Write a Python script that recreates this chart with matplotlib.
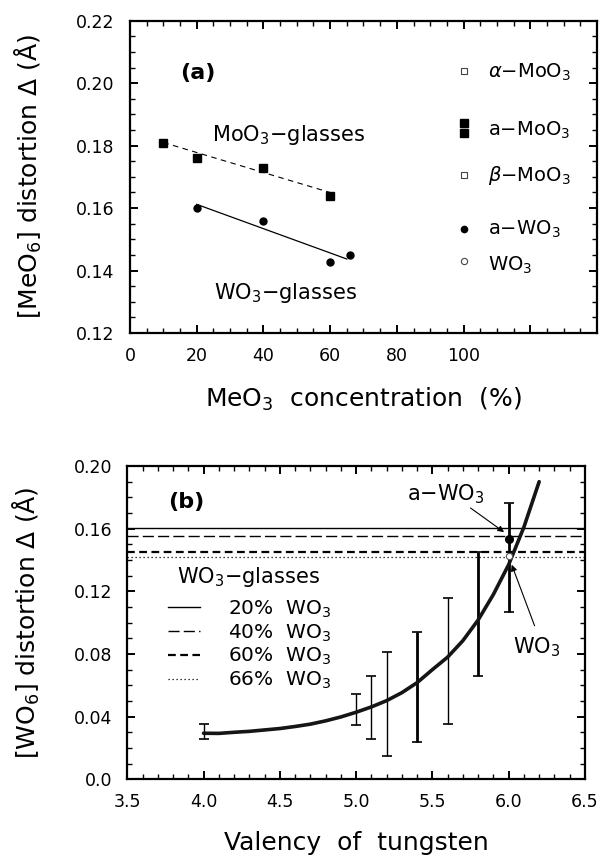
import matplotlib
matplotlib.use('Agg')
import matplotlib.pyplot as plt
from matplotlib.ticker import MultipleLocator, FixedLocator, FixedFormatter

# panel (a): [MeO6] distortion against MeO3 content of the glasses
mo_glass_conc = [10, 20, 40, 60]
mo_glass_dist = [0.181, 0.1762, 0.1728, 0.1639]
w_glass_conc = [20, 40, 60, 66]
w_glass_dist = [0.160, 0.156, 0.1429, 0.145]
mo_fit_conc = [10, 60]
mo_fit_dist = [0.181, 0.1650]
w_fit_conc = [20, 65]
w_fit_dist = [0.1612, 0.1437]

# reference compounds, all drawn at 100 %
ref_conc = 100
alpha_mo = [0.2040]
a_mo = [0.1872, 0.1842]
beta_mo = [0.1707]
a_w = [0.1534]
w_cryst = [0.1432]
ref_names = ['$\\alpha$\u2212MoO$_3$', 'a\u2212MoO$_3$', '$\\beta$\u2212MoO$_3$',
             'a\u2212WO$_3$', 'WO$_3$']
ref_name_y = [0.2019, 0.1831, 0.1688, 0.1515, 0.1400]

# panel (b): [WO6] distortion against valency of tungsten
valency = [4.0, 4.1, 4.2, 4.3, 4.4, 4.5, 4.6, 4.7, 4.8, 4.9, 5.0, 5.1,
           5.2, 5.3, 5.4, 5.5, 5.6, 5.7, 5.8, 5.9, 6.0, 6.1, 6.2]
wo6_dist = [0.0294, 0.0293, 0.0300, 0.0306, 0.0315, 0.0324, 0.0337, 0.0352,
            0.0373, 0.0398, 0.0428, 0.0462, 0.0502, 0.0553, 0.0617, 0.0700,
            0.0780, 0.0885, 0.1017, 0.1180, 0.1370, 0.1610, 0.1900]
bar_val = [4.0, 5.0, 5.1, 5.2, 5.4, 5.6, 5.8, 6.0]
bar_lo = [0.0255, 0.0347, 0.0255, 0.0149, 0.0236, 0.0353, 0.0660, 0.1066]
bar_hi = [0.0353, 0.0543, 0.0660, 0.0811, 0.0939, 0.1156, 0.1453, 0.1762]
glass_names = ['20%  WO$_3$', '40%  WO$_3$', '60%  WO$_3$', '66%  WO$_3$']
glass_level = [0.1603, 0.1556, 0.1453, 0.1418]
aw_val, aw_dist = [6.0], [0.1533]
wc_val, wc_dist = [6.0], [0.1428]

plt.rcParams['font.family'] = ['DejaVu Sans']
plt.rcParams['mathtext.fontset'] = 'dejavusans'

fig = plt.figure(figsize=(5.99, 8.59), dpi=100)
ax1 = fig.add_axes([0.217, 0.6123, 0.7796, 0.3636])
ax2 = fig.add_axes([0.2125, 0.0928, 0.764, 0.3647])

for ax in (ax1, ax2):
    for sp in ax.spines.values():
        sp.set_linewidth(1.6)
    ax.tick_params(which='both', direction='in', top=True, right=True,
                   labelsize=12.5)
    ax.tick_params(which='major', length=6, width=1.4)
    ax.tick_params(which='minor', length=3.5, width=1.0)
    ax.tick_params(axis='y', pad=11)
    ax.tick_params(axis='x', pad=10)

# ---- panel (a)
ax1.plot(mo_fit_conc, mo_fit_dist, color='k', lw=0.8, ls=(0, (5, 4)))
ax1.plot(w_fit_conc, w_fit_dist, color='k', lw=0.9)
ax1.plot(mo_glass_conc, mo_glass_dist, 's', color='k', ms=6)
ax1.plot(w_glass_conc, w_glass_dist, 'o', color='k', ms=5)

ax1.plot([ref_conc] * len(alpha_mo), alpha_mo, 's', mfc='white', mec='#444', mew=0.8, ms=5)
ax1.plot([ref_conc] * len(a_mo), a_mo, 's', color='k', ms=6)
ax1.plot([ref_conc] * len(beta_mo), beta_mo, 's', mfc='white', mec='#444', mew=0.8, ms=5)
ax1.plot([ref_conc] * len(a_w), a_w, 'o', color='k', ms=4.5)
ax1.plot([ref_conc] * len(w_cryst), w_cryst, 'o', mfc='white', mec='#444', mew=0.8, ms=4.5)
for name, yy in zip(ref_names, ref_name_y):
    ax1.text(107.3, yy, name, fontsize=14, va='baseline', ha='left')

ax1.text(14.9, 0.2014, '(a)', fontsize=16, fontweight='bold', va='baseline')
ax1.text(24.6, 0.1816, 'MoO$_3$\u2212glasses', fontsize=15, va='baseline')
ax1.text(25.2, 0.1308, 'WO$_3$\u2212glasses', fontsize=15, va='baseline')

ax1.set_xlim(0, 140)
ax1.set_ylim(0.12, 0.22)
ax1.xaxis.set_major_locator(FixedLocator([0, 20, 40, 60, 80, 100, 120, 140]))
ax1.xaxis.set_major_formatter(FixedFormatter(['0', '20', '40', '60', '80', '100', '', '']))
ax1.xaxis.set_minor_locator(MultipleLocator(5))
ax1.yaxis.set_major_locator(MultipleLocator(0.02))
ax1.yaxis.set_major_formatter(plt.FuncFormatter(lambda v, p: '%.2f' % v))
ax1.yaxis.set_minor_locator(MultipleLocator(0.005))
ax1.set_xlabel('MeO$_3$  concentration  (%)', fontsize=18, va='center')
ax1.xaxis.set_label_coords(0.5, -0.214)
ax1.set_ylabel('[MeO$_6$] distortion \u0394 (\u00c5)', fontsize=18, va='center')
ax1.yaxis.set_label_coords(-0.217, 0.5)

# ---- panel (b)
styles = ['-', (0, (8, 3)), (0, (3.5, 2)), (0, (1, 2.2))]
widths = [1.0, 1.0, 1.6, 0.9]
handles = []
for lev, st, w, name in zip(glass_level, styles, widths, glass_names):
    h = ax2.axhline(lev, color='k', ls=st, lw=w, label=name)
    handles.append(h)

thick = {5.4, 5.8, 6.0}
for v, lo, hi in zip(bar_val, bar_lo, bar_hi):
    mid = (lo + hi) / 2
    ax2.errorbar([v], [mid], yerr=[[mid - lo], [hi - mid]], fmt='none',
                 ecolor='k', elinewidth=2.0 if v in thick else 1.0,
                 capsize=3.5, capthick=1.2)

ax2.plot(valency, wo6_dist, color='#151515', lw=2.6, solid_capstyle='round')
ax2.plot(aw_val, aw_dist, 'o', color='k', ms=5.5)
ax2.plot(wc_val, wc_dist, 'o', mfc='white', mec='#555', mew=0.8, ms=4.5)

ax2.text(3.768, 0.173, '(b)', fontsize=16, fontweight='bold', va='baseline')
ax2.text(5.332, 0.1783, 'a\u2212WO$_3$', fontsize=15, va='baseline')
ax2.text(6.029, 0.0805, 'WO$_3$', fontsize=15, va='baseline')
arrow = dict(arrowstyle='-|>', color='k', lw=0.8, mutation_scale=9,
             shrinkA=0, shrinkB=0)
ax2.annotate('', xy=(5.97, 0.1578), xytext=(5.75, 0.1732), arrowprops=arrow)
ax2.annotate('', xy=(6.02, 0.1370), xytext=(6.17, 0.0980), arrowprops=arrow)

ax2.text(3.824, 0.1255, 'WO$_3$\u2212glasses', fontsize=15, va='baseline')
leg = ax2.legend(handles=handles, loc='upper left',
                 bbox_to_anchor=(0.089, 0.577), frameon=False, fontsize=14.5,
                 handlelength=1.6, handletextpad=1.4,
                 labelspacing=0.12, borderpad=0, borderaxespad=0)

ax2.set_xlim(3.5, 6.5)
ax2.set_ylim(0.0, 0.20)
ax2.xaxis.set_major_locator(MultipleLocator(0.5))
ax2.xaxis.set_major_formatter(plt.FuncFormatter(lambda v, p: '%.1f' % v))
ax2.xaxis.set_minor_locator(MultipleLocator(0.1))
ax2.yaxis.set_major_locator(MultipleLocator(0.04))
ax2.yaxis.set_major_formatter(
    plt.FuncFormatter(lambda v, p: '0.0' if abs(v) < 1e-9 else '%.2f' % v))
ax2.yaxis.set_minor_locator(MultipleLocator(0.01))
ax2.set_xlabel('Valency  of  tungsten', fontsize=18, va='center')
ax2.xaxis.set_label_coords(0.5, -0.203)
ax2.set_ylabel('[WO$_6$] distortion \u0394 (\u00c5)', fontsize=18, va='center')
ax2.yaxis.set_label_coords(-0.22, 0.5)

fig.savefig('out.png', dpi=100)
